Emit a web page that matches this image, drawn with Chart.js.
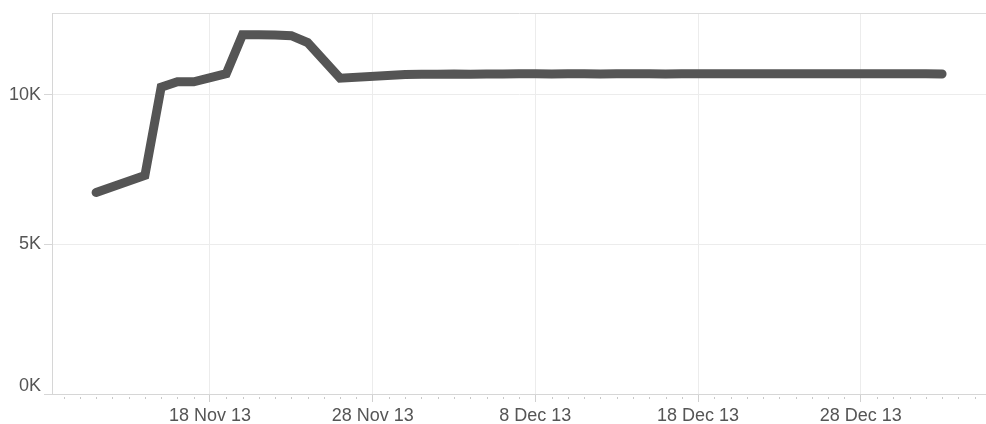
<!DOCTYPE html>
<html>
<head>
<meta charset="utf-8">
<script src="https://cdn.jsdelivr.net/npm/chart.js@4/dist/chart.umd.min.js"></script>
<style>
  html, body { margin: 0; padding: 0; background: #fff; }
  #wrap { width: 986px; height: 424px; position: relative; }
</style>
</head>
<body>
<div id="wrap"><canvas id="trendChart"></canvas></div>
<script>
const dates = [
    "2013-11-11", "2013-11-14", "2013-11-15", "2013-11-16", "2013-11-17",
    "2013-11-19", "2013-11-20", "2013-11-21", "2013-11-22", "2013-11-23",
    "2013-11-24", "2013-11-26", "2013-11-30",
    "2013-12-01", "2013-12-02", "2013-12-03", "2013-12-04", "2013-12-05",
    "2013-12-06", "2013-12-07", "2013-12-08", "2013-12-09", "2013-12-10",
    "2013-12-11", "2013-12-12", "2013-12-13", "2013-12-14", "2013-12-15",
    "2013-12-16", "2013-12-17", "2013-12-18", "2013-12-19", "2013-12-20",
    "2013-12-21", "2013-12-22", "2013-12-23", "2013-12-24", "2013-12-25",
    "2013-12-26", "2013-12-27", "2013-12-28", "2013-12-29", "2013-12-30",
    "2013-12-31", "2014-01-01", "2014-01-02"
];

const values = [
    6730, 7300, 10250, 10430, 10430,
    10700, 12000, 12000, 11990, 11970,
    11740, 10550, 10670,
    10680, 10680, 10690, 10680, 10690,
    10690, 10700, 10700, 10690, 10700,
    10700, 10690, 10700, 10700, 10700,
    10690, 10700, 10700, 10700, 10700,
    10700, 10700, 10700, 10700, 10700,
    10700, 10700, 10700, 10700, 10700,
    10700, 10700, 10690
];

const yTicks = [0, 5000, 10000];
const xMajorEvery = 10;
const baseDate = "2013-11-18";
const xRange = [-9.71, 47.7];
const yMax = 12700;

const months = ["Jan", "Feb", "Mar", "Apr", "May", "Jun", "Jul", "Aug", "Sep", "Oct", "Nov", "Dec"];
const DAY = 86400000;
const base = Date.parse(baseDate + "T00:00:00Z");
const labelFont = "'Liberation Sans', Arial, sans-serif";

function dayOffset(s) {
    return (Date.parse(s + "T00:00:00Z") - base) / DAY;
}

function dayLabel(v) {
    const d = new Date(base + v * DAY);
    return d.getUTCDate() + " " + months[d.getUTCMonth()] + " " + String(d.getUTCFullYear()).slice(2);
}

function kLabel(v) {
    return (v / 1000) + "K";
}

const points = dates.map((s, i) => ({ x: dayOffset(s), y: values[i] }));

const isMajor = v => Math.abs(v % xMajorEvery) < 1e-9;

// small day ticks under the x axis, and the bottom "0K" label lifted off the axis line
const axisExtras = {
    id: "axisExtras",
    afterDraw(chart) {
        const sx = chart.scales.x;
        const sy = chart.scales.y;
        const c = chart.ctx;
        c.save();
        c.strokeStyle = "#c8c8c8";
        c.lineWidth = 1;
        c.beginPath();
        sx.ticks.forEach(t => {
            if (isMajor(t.value)) return;
            const px = Math.round(sx.getPixelForValue(t.value)) + 0.5;
            c.moveTo(px, sx.top + 3);
            c.lineTo(px, sx.top + 5);
        });
        c.stroke();

        c.fillStyle = "#555";
        c.font = "18px " + labelFont;
        c.textAlign = "right";
        c.textBaseline = "middle";
        c.fillText(kLabel(yTicks[0]), sy.right - 11, sy.getPixelForValue(yTicks[0]) - 8);
        c.restore();
    }
};

const ctx = document.getElementById("trendChart");

new Chart(ctx, {
    type: "line",
    data: {
        datasets: [{
            data: points,
            borderColor: "#555555",
            borderWidth: 9,
            borderCapStyle: "round",
            pointRadius: 0,
            tension: 0,
            fill: false
        }]
    },
    options: {
        responsive: true,
        maintainAspectRatio: false,
        animation: false,
        layout: { padding: { top: 13, right: 0, bottom: 0, left: 0 } },
        plugins: {
            legend: { display: false },
            tooltip: { enabled: false }
        },
        scales: {
            x: {
                type: "linear",
                min: xRange[0],
                max: xRange[1],
                afterBuildTicks: scale => {
                    const ticks = [];
                    for (let v = Math.ceil(scale.min); v <= Math.floor(scale.max); v++) {
                        ticks.push({ value: v });
                    }
                    scale.ticks = ticks;
                },
                afterFit: scale => { scale.height = 30; },
                ticks: {
                    autoSkip: false,
                    maxRotation: 0,
                    padding: 3,
                    color: "#555",
                    font: { family: labelFont, size: 18 },
                    callback: v => isMajor(v) ? dayLabel(v) : ""
                },
                grid: {
                    color: c => isMajor(c.tick.value) ? "#ececec" : "rgba(0,0,0,0)",
                    tickColor: c => isMajor(c.tick.value) ? "#d0d0d0" : "rgba(0,0,0,0)",
                    tickLength: 8
                },
                border: { color: "#d6d6d6" }
            },
            y: {
                min: 0,
                max: yMax,
                afterBuildTicks: scale => {
                    scale.ticks = yTicks.map(v => ({ value: v })).concat([{ value: yMax }]);
                },
                afterFit: scale => { scale.width = 52; },
                ticks: {
                    padding: 3,
                    color: "#555",
                    font: { family: labelFont, size: 18 },
                    callback: v => (yTicks.includes(v) && v !== yTicks[0]) ? kLabel(v) : ""
                },
                grid: {
                    color: c => c.tick.value === yMax ? "#dcdcdc" : "#ececec",
                    tickColor: c => c.tick.value === yMax ? "rgba(0,0,0,0)" : "#d6d6d6",
                    tickLength: 8
                },
                border: { color: "#d6d6d6" }
            }
        }
    },
    plugins: [axisExtras]
});
</script>
</body>
</html>
